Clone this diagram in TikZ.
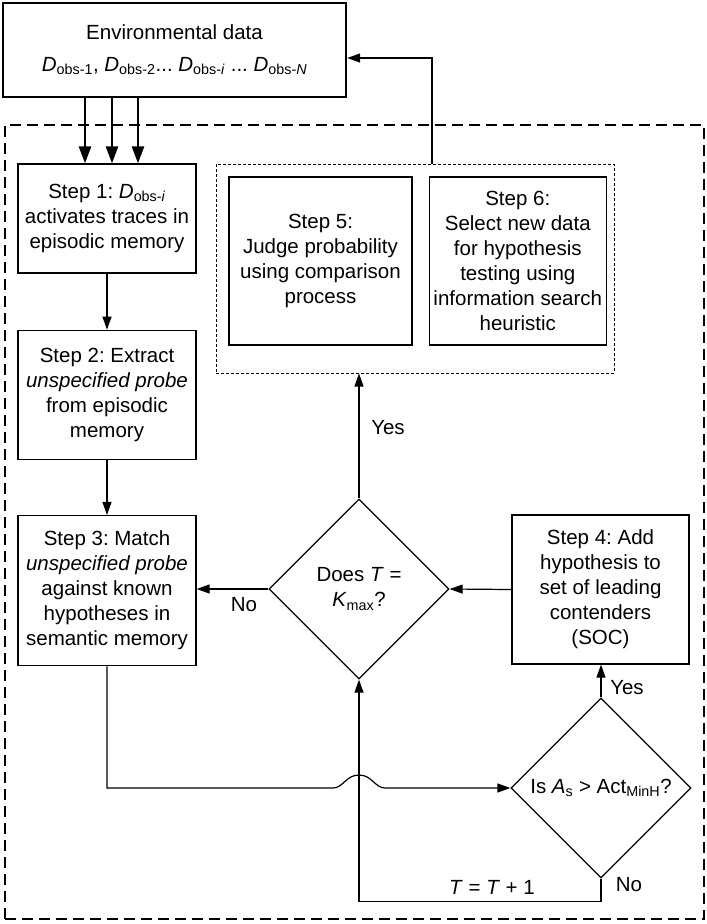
\documentclass[tikz,border=0pt]{standalone}
\usepackage{fontspec}
\setmainfont{Liberation Sans}
\usetikzlibrary{positioning,shapes.geometric,arrows.meta}

\newcommand{\stepfont}{\fontsize{20.5}{25}\selectfont\frenchspacing}
\tikzset{
  flow/.style={line width=1.2pt, -{Triangle[length=13pt,width=9pt]}},
  datain/.style={line width=2.6pt, -{Triangle[length=17pt,width=12pt]}},
  stepbox/.style={draw, line width=1.3pt, align=center, inner sep=2pt, font=\stepfont},
  decision/.style={draw, diamond, line width=1.3pt, align=center, inner sep=0pt,
    minimum width=180pt, minimum height=180pt, font=\stepfont},
  note/.style={inner sep=0pt, font=\stepfont},
}

\begin{document}
\begin{tikzpicture}[x=1pt, y=-1pt]
  \useasboundingbox (0,0) rectangle (707,924);
  % Define frames
  \node[draw, dash pattern=on 11pt off 6pt, line width=1.8pt, minimum width=699pt, minimum height=794pt] (loop) at (354.5,522) {};
  \node[draw, dash pattern=on 3pt off 2pt, line width=1pt, minimum width=398pt, minimum height=209pt] (grp) at (415,268.5) {};
  % Define nodes
  \node[stepbox, line width=2.4pt, minimum width=343pt, minimum height=94pt] (env) at (174.5,50) {Environmental data\\[7pt]
    \textit{D}\textsubscript{obs-1}, \textit{D}\textsubscript{obs-2}... \textit{D}\textsubscript{obs-\textit{i}} ... \textit{D}\textsubscript{obs-\textit{N}}};
  \node[stepbox, minimum width=178pt, minimum height=109pt] (step1) at (107,218.5) {Step 1: \textit{D}\textsubscript{obs-\textit{i}}\\activates traces in\\episodic memory};
  \node[stepbox, minimum width=178pt, minimum height=129pt, below=56pt of step1] (step2) {Step 2: Extract\\\textit{unspecified probe}\\from episodic\\memory};
  \node[stepbox, minimum width=178pt, minimum height=150pt, below=55pt of step2] (step3) {Step 3: Match\\\textit{unspecified probe}\\against known\\hypotheses in\\semantic memory};
  \node[stepbox, minimum width=183pt, minimum height=168pt] (step5) at (320.5,261) {Step 5:\\Judge probability\\using comparison\\process};
  \node[stepbox, minimum width=177pt, minimum height=168pt, right=16pt of step5] (step6) {Step 6:\\Select new data\\for hypothesis\\testing using\\information search\\heuristic};
  \node[decision] (does) at (359,589) {Does \textit{T} =\\\textit{K}\textsubscript{max}?};
  \node[stepbox, minimum width=177pt, minimum height=149pt] (step4) at (600.5,589.5) {Step 4: Add\\hypothesis to\\set of leading\\contenders\\(SOC)};
  \node[decision] (isas) at (601,788) {Is \textit{A}\textsubscript{s} > Act\textsubscript{MinH}?};
  % labels
  \node[note] (yes1) at (388,428) {Yes};
  \node[note] (no1) at (244,605) {No};
  \node[note] (yes2) at (627,688) {Yes};
  \node[note] (no2) at (629,885) {No};
  \node[note] (tinc) at (492,887) {\textit{T} = \textit{T} + 1};
  % connect data to step 1
  \foreach \a/\b in {-89.5/-22, -62.5/5, -36.5/31}
    \draw[datain] ([xshift=\a pt]env.south) -- ([xshift=\b pt]step1.north);
  % connect steps
  \draw[flow] (step1) -- (step2);
  \draw[flow] (step2) -- (step3);
  \draw[flow] (does.west) -- (does.west -| step3.east);
  \draw[flow] (step4.west) -- (does.east);
  \draw[flow] (does.north) -- (does.north |- grp.south);
  \draw[flow] (isas.north) -- (isas.north |- step4.south);
  \draw[flow] (isas.south) -- ++(0,23) -| (does.south);
  % feedback to environment
  \coordinate (fb) at (432,58);
  \draw[flow] (grp.north -| fb) |- (env.east |- fb);
  % step 3 to test, hopping over the loop line
  \coordinate (hop) at (does.south |- isas.west);
  \draw[flow] (step3.south) |- ([xshift=-26pt]hop)
    .. controls ([xshift=-16pt]hop) and ([xshift=-13pt,yshift=13pt]hop) .. ([yshift=13pt]hop)
    .. controls ([xshift=13pt,yshift=13pt]hop) and ([xshift=16pt]hop) .. ([xshift=26pt]hop)
    -- (isas.west);
\end{tikzpicture}
\end{document}
